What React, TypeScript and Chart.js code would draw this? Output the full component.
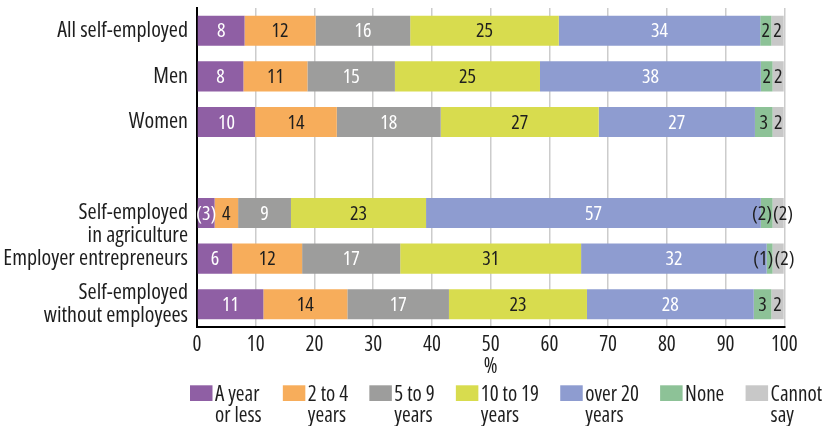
import React, { useEffect, useRef } from "react";
import { Chart, registerables } from "chart.js";

Chart.register(...registerables);

const FAMILY = '"Open Sans", "Roboto Condensed", sans-serif';
const STRETCH = "condensed";
const TEXT = "#1e1e1e";

// Categories (index 3 is an empty spacer row)
const categories: (string | string[])[] = [
  "All self-employed",
  "Men",
  "Women",
  "",
  ["", "Self-employed", "in agriculture"],
  "Employer entrepreneurs",
  ["Self-employed", "without employees"],
];

// Series values (% of respondents)
const yearOrLess = [8.1, 7.9, 9.9, null, 3.0, 6.0, 11.3];
const twoToFour = [12.1, 10.9, 13.9, null, 4.0, 11.9, 14.3];
const fiveToNine = [16.1, 14.9, 17.7, null, 9.0, 16.7, 17.3];
const tenToNineteen = [25.3, 24.7, 26.9, null, 23.0, 30.8, 23.5];
const over20 = [34.3, 37.6, 26.6, null, 57.0, 31.6, 28.4];
const none = [1.9, 2.0, 3.0, null, 2.0, 1.0, 3.0];
const cannotSay = [2.1, 1.9, 1.9, null, 1.9, 1.9, 2.1];

// Printed value labels
const yearOrLessLabels = ["8", "8", "10", "", "(3)", "6", "11"];
const twoToFourLabels = ["12", "11", "14", "", "4", "12", "14"];
const fiveToNineLabels = ["16", "15", "18", "", "9", "17", "17"];
const tenToNineteenLabels = ["25", "25", "27", "", "23", "31", "23"];
const over20Labels = ["34", "38", "27", "", "57", "32", "28"];
const noneLabels = ["2", "2", "3", "", "(2)", "(1)", "3"];
const cannotSayLabels = ["2", "2", "2", "", "(2)", "(2)", "2"];

// Legend texts
const legendTexts = [
  ["A year", "or less"],
  ["2 to 4", "years"],
  ["5 to 9", "years"],
  ["10 to 19", "years"],
  ["over 20", "years"],
  ["None"],
  ["Cannot", "say"],
];

const seriesValues = [yearOrLess, twoToFour, fiveToNine, tenToNineteen, over20, none, cannotSay];
const seriesLabels = [
  yearOrLessLabels,
  twoToFourLabels,
  fiveToNineLabels,
  tenToNineteenLabels,
  over20Labels,
  noneLabels,
  cannotSayLabels,
];
const seriesColors = ["#8f5fa4", "#f7ad5b", "#9d9d9c", "#d8dc4e", "#8e9cd0", "#8dc297", "#c8c8c8"];
const labelColors = ["#ffffff", TEXT, "#ffffff", TEXT, "#ffffff", TEXT, TEXT];

const fontStr = (size: number) => `${STRETCH} ${size}px ${FAMILY}`;

const valueLabelPlugin = {
  id: "valueLabels",
  afterDatasetsDraw(chart: any) {
    const ctx = chart.ctx;
    ctx.save();
    ctx.font = fontStr(20);
    ctx.textAlign = "center";
    ctx.textBaseline = "middle";
    const n = chart.data.labels.length;
    for (let j = 0; j < n; j++) {
      const items: any[] = [];
      chart.data.datasets.forEach((ds: any, i: number) => {
        const txt = seriesLabels[i][j];
        if (!txt || ds.data[j] == null) return;
        const el = chart.getDatasetMeta(i).data[j];
        items.push({
          txt,
          color: labelColors[i],
          x: (el.x + el.base) / 2,
          y: el.y + 1,
          w: ctx.measureText(txt).width,
        });
      });
      // nudge neighbouring labels apart when they collide
      for (let k = 1; k < items.length; k++) {
        const a = items[k - 1];
        const b = items[k];
        const overlap = a.x + a.w / 2 - (b.x - b.w / 2) + 1;
        if (overlap > 0) {
          a.x -= overlap / 2;
          b.x += overlap / 2;
        }
      }
      items.forEach((it) => {
        ctx.fillStyle = it.color;
        ctx.fillText(it.txt, it.x, it.y);
      });
    }
    ctx.restore();
  },
};

const legendPlugin = {
  id: "customLegend",
  afterDraw(chart: any) {
    const ctx = chart.ctx;
    ctx.save();
    ctx.font = fontStr(21);
    const widths = legendTexts.map((lines) => Math.max(...lines.map((l) => ctx.measureText(l).width)));
    const boxW = 22.5;
    const boxH = 15.7;
    const textGap = 2.5;
    const startX = 190;
    const endX = 822;
    const total = widths.reduce((a, w) => a + boxW + textGap + w, 0);
    const gap = (endX - startX - total) / (legendTexts.length - 1);
    const line1 = 401;
    const lineH = 21;
    let x = startX;
    legendTexts.forEach((lines, i) => {
      ctx.fillStyle = seriesColors[i];
      ctx.fillRect(x, line1 - boxH, boxW, boxH);
      ctx.fillStyle = TEXT;
      ctx.textAlign = "left";
      ctx.textBaseline = "alphabetic";
      lines.forEach((t, j) => ctx.fillText(t, x + boxW + textGap, line1 + j * lineH));
      x += boxW + textGap + widths[i] + gap;
    });
    ctx.restore();
  },
};

export default function App() {
  const ref = useRef<HTMLCanvasElement>(null);
  useEffect(() => {
    document.body.style.margin = "0";
    const chart = new Chart(ref.current as HTMLCanvasElement, {
      type: "bar",
      data: {
        labels: categories as any,
        datasets: seriesValues.map((vals, i) => ({
          label: legendTexts[i].join(" "),
          data: vals as any,
          backgroundColor: seriesColors[i],
          borderWidth: 0,
          barPercentage: 0.66,
          categoryPercentage: 1,
        })),
      },
      options: {
        animation: false,
        responsive: false,
        indexAxis: "y",
        layout: { padding: { left: 0, right: 39.7, top: 8, bottom: 46.5 } },
        plugins: { legend: { display: false }, tooltip: { enabled: false } },
        scales: {
          x: {
            stacked: true,
            min: 0,
            max: 100,
            ticks: {
              stepSize: 10,
              padding: 5,
              color: TEXT,
              font: { family: FAMILY, weight: STRETCH, size: 21 },
            },
            grid: { color: "#cccccc", lineWidth: 1.5, drawTicks: false },
            border: { color: "#000000", width: 2 },
            title: {
              display: true,
              text: "%",
              color: TEXT,
              font: { family: FAMILY, weight: STRETCH, size: 21, lineHeight: 1.2 },
              padding: 0,
            },
            afterFit: (s: any) => {
              s.height = 52.5;
            },
          },
          y: {
            stacked: true,
            ticks: {
              autoSkip: false,
              padding: 9,
              color: TEXT,
              font: { family: FAMILY, weight: STRETCH, size: 22, lineHeight: 1.05 },
            },
            grid: { display: false, drawTicks: false },
            border: { color: "#000000", width: 2 },
            afterFit: (s: any) => {
              s.width = 197;
              s.paddingTop = 0;
              s.paddingBottom = 0;
            },
          },
        },
      } as any,
      plugins: [valueLabelPlugin, legendPlugin],
    });
    return () => chart.destroy();
  }, []);
  return (
    <div style={{ position: "fixed", left: 0, top: 0, width: 824, height: 426, background: "#fff" }}>
      <canvas ref={ref} width={824} height={426} style={{ display: "block" }} />
    </div>
  );
}
